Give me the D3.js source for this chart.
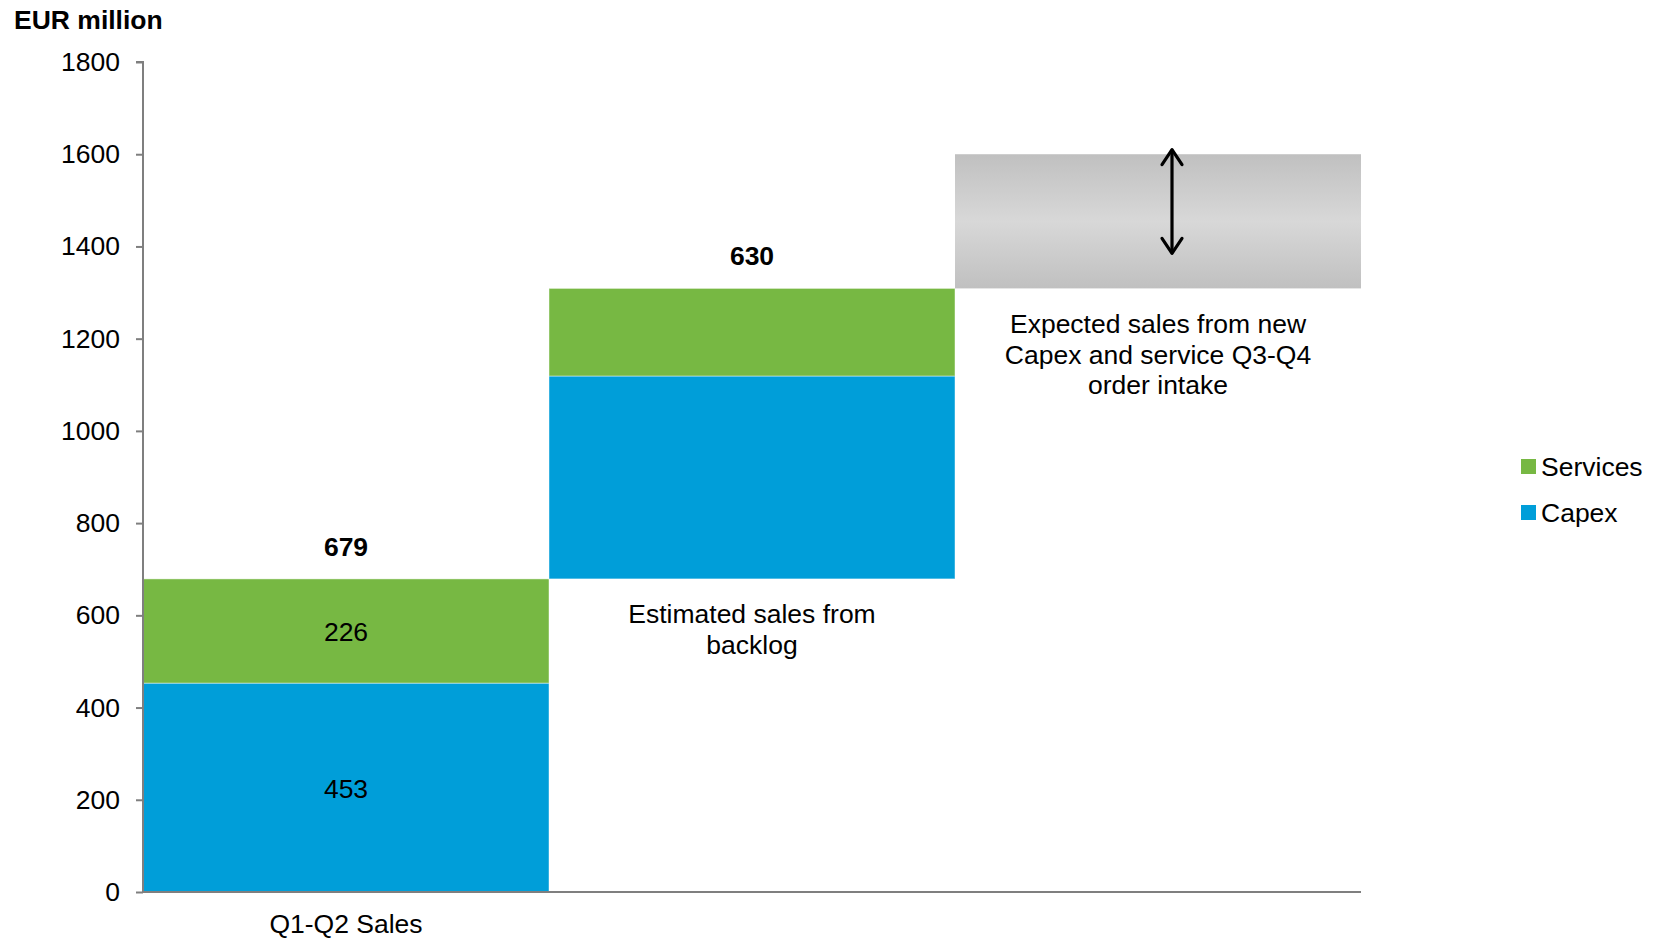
<!DOCTYPE html>
<html>
<head>
<meta charset="utf-8">
<script src="https://cdn.jsdelivr.net/npm/d3@7"></script>
<style>
  html, body { margin: 0; padding: 0; background: #fff; }
  svg { display: block; font-family: "Liberation Sans", Arial, sans-serif; }
</style>
</head>
<body>
<svg id="chart" width="1661" height="940"></svg>
<script>
// Sales bridge: H1 actuals, backlog, and expected new order intake (EUR million)
const categories = ["Q1-Q2 Sales", "Estimated sales from backlog", "Expected sales from new Capex and service Q3-Q4 order intake"];
const categoryLines = [["Q1-Q2 Sales"], ["Estimated sales from", "backlog"], ["Expected sales from new", "Capex and service Q3-Q4", "order intake"]];
const capex = [453, 440];
const services = [226, 190];
const rangeLow = 1309;
const rangeHigh = 1600;
const arrowSpan = [1385, 1610];
const yTicks = [0, 200, 400, 600, 800, 1000, 1200, 1400, 1600, 1800];
const seriesNames = ["Services", "Capex"];
const colors = { Capex: "#009ed9", Services: "#77b843" };

const FS = 26.5;
const svg = d3.select("#chart");
const plotLeft = 143, plotRight = 1361, plotTop = 62, plotBottom = 892;

const x = d3.scaleBand().domain(categories).range([plotLeft, plotRight]).padding(0);
const y = d3.scaleLinear().domain([0, 1800]).range([plotBottom, plotTop]);

// gradient for the expected-range box
const defs = svg.append("defs");
const grad = defs.append("linearGradient").attr("id", "rangeGrad")
  .attr("x1", 0).attr("y1", 0).attr("x2", 0).attr("y2", 1);
grad.append("stop").attr("offset", "0%").attr("stop-color", "#c0c0c0");
grad.append("stop").attr("offset", "50%").attr("stop-color", "#d8d8d8");
grad.append("stop").attr("offset", "100%").attr("stop-color", "#c0c0c0");

// stacked segments: each column starts where the previous one ended
const segments = [];
let base = 0;
capex.forEach((c, i) => {
  const s = services[i];
  segments.push({ cat: categories[i], key: "Capex", y0: base, y1: base + c, v: c });
  segments.push({ cat: categories[i], key: "Services", y0: base + c, y1: base + c + s, v: s });
  base += c + s;
});

svg.append("g").selectAll("rect").data(segments).join("rect")
  .attr("x", d => x(d.cat))
  .attr("width", x.bandwidth())
  .attr("y", d => y(d.y1))
  .attr("height", d => y(d.y0) - y(d.y1))
  .attr("fill", d => colors[d.key])
  .attr("stroke", "rgba(255,255,255,0.45)")
  .attr("stroke-width", 1);

// expected new order intake range
svg.append("rect")
  .attr("x", x(categories[2]))
  .attr("width", x.bandwidth())
  .attr("y", y(rangeHigh))
  .attr("height", y(rangeLow) - y(rangeHigh))
  .attr("fill", "url(#rangeGrad)");

// double-headed arrow
const ax = x(categories[2]) + x.bandwidth() / 2 + 14;
const yt = y(arrowSpan[1]), yb = y(arrowSpan[0]);
const arrow = svg.append("g").attr("stroke", "#000").attr("stroke-width", 3.2)
  .attr("fill", "none").attr("stroke-linecap", "round").attr("stroke-linejoin", "round");
arrow.append("line").attr("x1", ax).attr("x2", ax).attr("y1", yt + 1).attr("y2", yb - 1);
arrow.append("path").attr("d", `M${ax - 10},${yt + 15} L${ax},${yt} L${ax + 10},${yt + 15}`);
arrow.append("path").attr("d", `M${ax - 10},${yb - 15} L${ax},${yb} L${ax + 10},${yb - 15}`);

// y axis
const yAxis = svg.append("g").attr("transform", `translate(${plotLeft},0)`)
  .call(d3.axisLeft(y).tickValues(yTicks).tickSize(7).tickPadding(16).tickFormat(d3.format("d")));
yAxis.select(".domain").attr("stroke", "#7f7f7f").attr("stroke-width", 2)
  .attr("d", `M-7,${plotTop}H0V${plotBottom}`);
yAxis.selectAll(".tick line").attr("stroke", "#7f7f7f").attr("stroke-width", 2);
yAxis.selectAll(".tick text").attr("font-size", FS).attr("fill", "#000")
  .attr("font-family", "'Liberation Sans', Arial, sans-serif");

// x baseline
svg.append("line").attr("x1", plotLeft).attr("x2", plotRight).attr("y1", y(0)).attr("y2", y(0))
  .attr("stroke", "#7f7f7f").attr("stroke-width", 2);

// category labels (baseline of first line)
const labelY = [933, 623, 333];
categoryLines.forEach((lines, i) => {
  const t = svg.append("text").attr("text-anchor", "middle").attr("font-size", FS).attr("fill", "#000");
  lines.forEach((ln, j) => {
    t.append("tspan").attr("x", x(categories[i]) + x.bandwidth() / 2)
      .attr("y", labelY[i] + j * 30.5).text(ln);
  });
});

// segment value labels on first column
segments.filter(d => d.cat === categories[0]).forEach(d => {
  svg.append("text").attr("x", x(d.cat) + x.bandwidth() / 2)
    .attr("y", (y(d.y0) + y(d.y1)) / 2 + 10)
    .attr("text-anchor", "middle").attr("font-size", FS).attr("fill", "#000").text(d.v);
});

// column totals
let cum = 0;
capex.forEach((c, i) => {
  const total = c + services[i];
  cum += total;
  svg.append("text").attr("x", x(categories[i]) + x.bandwidth() / 2)
    .attr("y", y(cum) - 23)
    .attr("text-anchor", "middle").attr("font-size", FS).attr("font-weight", "bold")
    .attr("fill", "#000").text(total);
});

// unit title
svg.append("text").attr("x", 14).attr("y", 29).attr("font-size", FS)
  .attr("font-weight", "bold").attr("fill", "#000").text("EUR million");

// legend
const legend = svg.append("g").selectAll("g").data(seriesNames).join("g")
  .attr("transform", (d, i) => `translate(1521,${459 + i * 46})`);
legend.append("rect").attr("width", 15).attr("height", 15).attr("fill", d => colors[d]);
legend.append("text").attr("x", 20).attr("y", 17).attr("font-size", FS).attr("fill", "#000").text(d => d);
</script>
</body>
</html>
